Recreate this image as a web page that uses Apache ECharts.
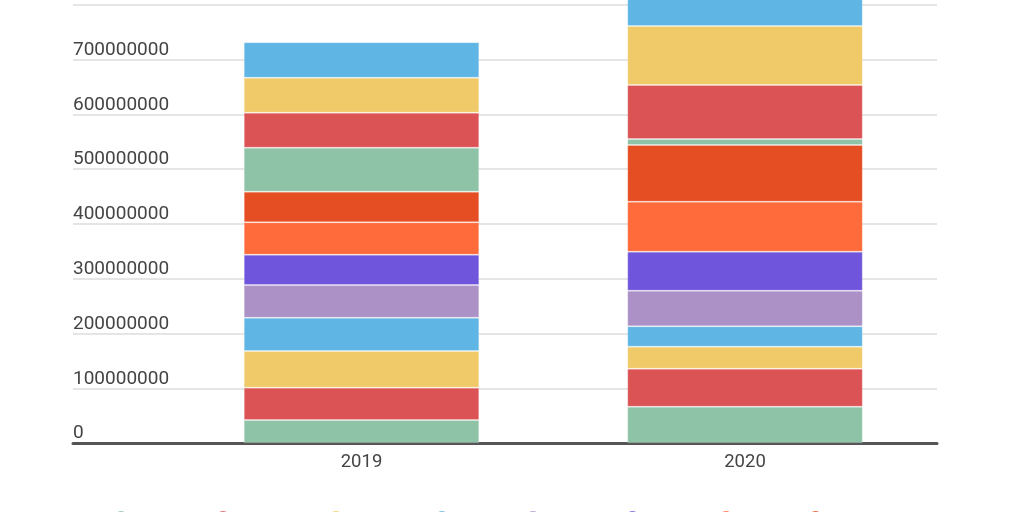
<!DOCTYPE html>
<html>
<head>
<meta charset="utf-8">
<script src="https://cdn.jsdelivr.net/npm/echarts@6/dist/echarts.min.js"></script>
<style>html,body{margin:0;padding:0;background:#fff;}#c{width:1024px;height:512px;}</style>
</head>
<body>
<div id="c"></div>
<script>
const categories = ['2019', '2020'];
const seriesNames = ['Series 1','Series 2','Series 3','Series 4','Series 5','Series 6','Series 7','Series 8','Series 9','Series 10','Series 11','Series 12'];
const s1  = [42200000, 66400000];
const s2  = [58900000, 69400000];
const s3  = [67000000, 40100000];
const s4  = [60700000, 37200000];
const s5  = [59700000, 65000000];
const s6  = [55300000, 71200000];
const s7  = [59100000, 91200000];
const s8  = [55900000, 103500000];
const s9  = [80300000, 10900000];
const s10 = [63800000, 98600000];
const s11 = [63900000, 107600000];
const s12 = [64600000, 80000000];
const seriesValues = [s1,s2,s3,s4,s5,s6,s7,s8,s9,s10,s11,s12];
const yTicks = { min: 0, max: 800000000, interval: 100000000 };

const palette = ['#8ec3a7','#dc5356','#f0ca68','#5fb5e4','#ab91c6','#6f55db','#ff6b3b','#e54e22'];
// legend item left edges (layout only)
const legendLefts = [113, 215, 328, 434, 525, 624.5, 718, 807.5, 113, 215, 328, 434];
const legendTops  = [510, 510, 510, 510, 510, 510, 510, 510, 535, 535, 535, 535];

const chart = echarts.init(document.getElementById('c'), null, {renderer: 'canvas'});
const gridTop = 4.7, gridBottom = 68.9;
const option = {
  animation: false,
  color: palette,
  textStyle: { fontFamily: 'Roboto' },
  grid: [
    { left: 73, right: 87, top: gridTop, bottom: gridBottom, outerBoundsMode: 'none', containLabel: false },
    { left: 169.75, right: 87.25, top: gridTop, bottom: gridBottom, outerBoundsMode: 'none', containLabel: false }
  ],
  legend: seriesNames.map((n, i) => ({
    left: legendLefts[i], top: legendTops[i], padding: 0,
    itemWidth: 14, itemHeight: 14, icon: 'circle',
    textStyle: { fontSize: 13, color: '#444', fontFamily: 'Roboto' },
    data: [n]
  })),
  xAxis: [
    { type: 'category', gridIndex: 0, data: ['a'], axisTick: {show: false}, axisLabel: {show: false},
      axisLine: { show: true, lineStyle: { color: '#555', width: 3 } }, splitLine: {show: false} },
    { type: 'category', gridIndex: 1, data: categories, axisTick: {show: false},
      axisLine: { show: false },
      axisLabel: { fontSize: 18.5, color: '#444', margin: 10, fontFamily: 'Roboto' } }
  ],
  yAxis: [
    { type: 'value', gridIndex: 0, min: yTicks.min, max: yTicks.max, interval: yTicks.interval,
      axisLine: {show: false}, axisTick: {show: false},
      splitLine: { show: true, lineStyle: { color: '#dcdcdc', width: 1.5 } },
      axisLabel: { inside: true, align: 'left', verticalAlign: 'bottom', margin: 0, fontSize: 19,
        color: '#444', fontFamily: 'Roboto', padding: [0,0,0,0],
        formatter: v => String(v) } },
    { type: 'value', gridIndex: 1, min: yTicks.min, max: yTicks.max, interval: yTicks.interval, show: false,
      splitLine: {show: false} }
  ],
  series: seriesValues.map((vals, i) => ({
    name: seriesNames[i], type: 'bar', stack: 'total', xAxisIndex: 1, yAxisIndex: 1,
    barWidth: 235.5, data: vals, clip: false,
    itemStyle: { borderColor: 'rgba(255,255,255,0.2)', borderWidth: 1 }
  }))
};
chart.setOption(option);
</script>
</body>
</html>
